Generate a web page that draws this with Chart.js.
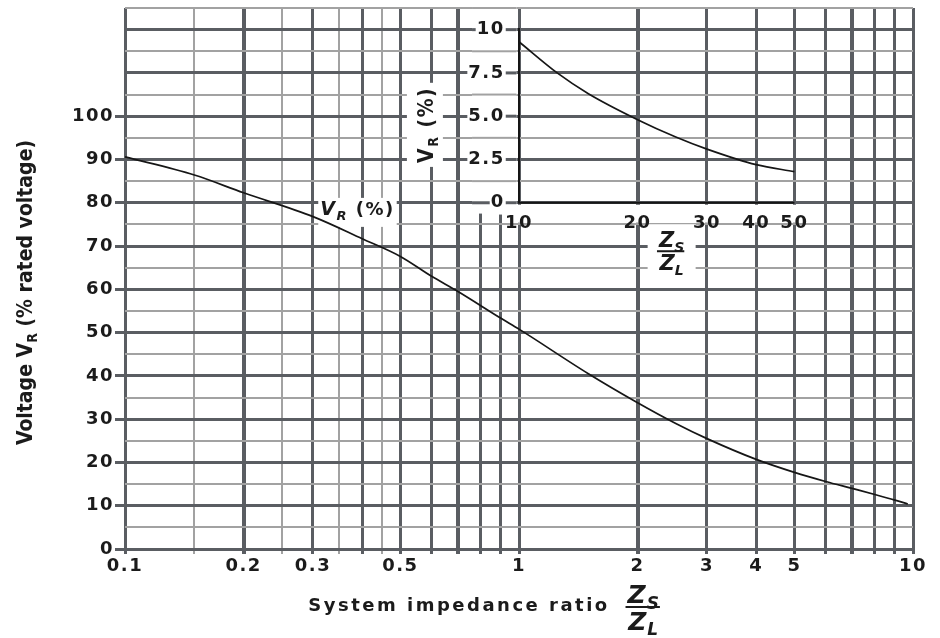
<!DOCTYPE html>
<html>
<head>
<meta charset="utf-8">
<script src="https://cdn.jsdelivr.net/npm/chart.js@4.4.1/dist/chart.umd.min.js"></script>
<style>
  html, body { margin: 0; padding: 0; background: #fff; }
</style>
</head>
<body>
<canvas id="chart" width="940" height="638"></canvas>
<script>
// main curve: residual voltage vs system impedance ratio Zs/Zl
const ratio   = [0.1, 0.15, 0.2, 0.3, 0.4, 0.5, 0.6, 0.7, 0.9, 1, 1.5, 2, 2.5, 3, 4, 5, 6, 7, 8, 9, 9.7];
const voltage = [90.6, 86.4, 82.3, 76.8, 71.7, 67.6, 63.0, 59.5, 53.3, 50.8, 40.5, 33.8, 29.0, 25.5, 20.7, 17.7, 15.6, 14.0, 12.6, 11.3, 10.4];

// inset curve: large ratios
const ratioBig   = [10, 12.5, 15, 20, 25, 30, 40, 50];
const voltageBig = [9.3, 7.5, 6.3, 4.8, 3.8, 3.1, 2.2, 1.8];

// ticks
const xGrid   = [0.1, 0.15, 0.2, 0.25, 0.3, 0.35, 0.4, 0.45, 0.5, 0.6, 0.7, 0.8, 0.9, 1, 2, 3, 4, 5, 6, 7, 8, 9, 10];
const xLabels = [0.1, 0.2, 0.3, 0.5, 1, 2, 3, 4, 5, 10];
const yLabels = [0, 10, 20, 30, 40, 50, 60, 70, 80, 90, 100];
const insetXTicks = [10, 20, 30, 40, 50];
const insetYTicks = [0, 2.5, 5, 7.5, 10];
const insetYLabels = ['0', '2.5', '5.0', '7.5', '10'];

const DARK = '#5a5d62';
const LIGHT = '#a2a2a2';
const INK = '#1b1b1b';
const FONT = '"DejaVu Sans", sans-serif';
const COND = '"DejaVu Sans Condensed", sans-serif';

function mant(v) {
  return +(v / Math.pow(10, Math.floor(Math.log10(v) + 1e-9))).toFixed(2);
}
function vWidth(v) {
  const m = mant(v);
  if ([1.5, 2.5, 3.5, 4.5].includes(m)) return 2;
  if (m === 2 || m === 7) return 4;
  return 3;
}
function vColor(v) {
  return vWidth(v) === 2 ? LIGHT : DARK;
}
function hWidth(v) { return v % 10 === 0 ? 3 : 2; }
function hColor(v) { return v % 10 === 0 ? DARK : LIGHT; }

// draw text pieces side by side (for subscripts)
function runs(ctx, list, x, y) {
  let cx = x;
  for (const [t, font, dy] of list) {
    ctx.font = font;
    ctx.fillText(t, cx, y + (dy || 0));
    cx += ctx.measureText(t).width;
  }
  return cx - x;
}
function runsWidth(ctx, list) {
  let w = 0;
  for (const [t, font] of list) { ctx.font = font; w += ctx.measureText(t).width; }
  return w;
}
function fraction(ctx, cx, cy, size) {
  const big = 'bold italic ' + size + 'px ' + FONT;
  const sub = 'bold italic ' + Math.round(size * 0.68) + 'px ' + FONT;
  const num = [['Z', big], ['S', sub, size * 0.22]];
  const den = [['Z', big], ['L', sub, size * 0.22]];
  const wn = runsWidth(ctx, num), wd = runsWidth(ctx, den);
  const w = Math.max(wn, wd);
  runs(ctx, num, cx - wn / 2, cy - 4);
  ctx.fillRect(cx - w / 2 - 2, cy - 1, w + 2, 2);
  runs(ctx, den, cx - wd / 2, cy + size * 0.9);
  return w;
}

const overlay = {
  id: 'overlay',
  beforeUpdate(chart) { chart.ctx.letterSpacing = '1.5px'; },
  beforeDraw(chart) { chart.ctx.letterSpacing = '1.5px'; },
  beforeDatasetsDraw(chart) {
    const { ctx, chartArea: ca, scales: { x, y, x2, y2 } } = chart;
    ctx.save();
    ctx.fillStyle = '#fff';

    // blank column left of the inset axis, then put the horizontal lines back
    const c0 = x.getPixelForValue(0.76), c1 = x.getPixelForValue(0.985);
    const cTop = ca.top - 3;
    const cBottom = y.getPixelForValue(77.5);
    ctx.fillRect(c0, cTop, c1 - c0, cBottom - cTop);
    y.ticks.forEach(t => {
      const py = y.getPixelForValue(t.value);
      if (py > cBottom) return;
      ctx.fillStyle = hColor(t.value);
      const w = hWidth(t.value);
      ctx.fillRect(c0, py - w / 2, c1 - c0, w);
    });
    ctx.fillStyle = '#fff';

    // band under the inset x labels
    const b0 = x2.getPixelForValue(9.3), b1 = x2.getPixelForValue(57);
    const bt = y.getPixelForValue(80) + 2, bb = y.getPixelForValue(75.4);
    ctx.fillRect(b0, bt, b1 - b0, bb - bt);

    // curve label V_R (%)
    const lab = [['V', 'bold italic 19px ' + FONT], ['R', 'bold italic 13px ' + FONT, 5], [' (%)', 'bold 18px ' + FONT]];
    const lx = x.getPixelForValue(0.313), ly = y.getPixelForValue(77.2);
    const lw = runsWidth(ctx, lab);
    ctx.fillRect(lx - 2, ly - 17, lw + 4, 29);

    // inset y title (rotated)
    const rl = [['V', 'bold 21px ' + COND], ['R', 'bold 14px ' + COND, 5], [' (%)', 'bold 21px ' + COND]];
    const rx = x.getPixelForValue(0.577), ry = y.getPixelForValue(98);
    const rw = runsWidth(ctx, rl);
    ctx.fillRect(rx - 18, ry - rw / 2 - 4, 36, rw + 8);

    // inset fraction box
    const fx = x2.getPixelForValue(24.4), fy = y.getPixelForValue(68.8);
    ctx.fillRect(fx - 24, fy - 27, 48, 56);

    // texts
    ctx.fillStyle = INK;
    ctx.textBaseline = 'alphabetic';
    ctx.textAlign = 'left';
    runs(ctx, lab, lx, ly);

    ctx.save();
    ctx.translate(rx + 8, ry);
    ctx.rotate(-Math.PI / 2);
    runs(ctx, rl, -rw / 2, 0);
    ctx.restore();

    ctx.letterSpacing = '0px';
    fraction(ctx, fx, fy, 21);

    // inset axes
    ctx.strokeStyle = '#151515';
    ctx.lineWidth = 2;
    ctx.beginPath();
    ctx.moveTo(x2.getPixelForValue(10), y2.getPixelForValue(10.1));
    ctx.lineTo(x2.getPixelForValue(10), y2.getPixelForValue(0));
    ctx.lineTo(x2.getPixelForValue(50), y2.getPixelForValue(0));
    ctx.stroke();
    ctx.restore();
  },
  afterDraw(chart) {
    const { ctx, chartArea: ca } = chart;
    ctx.save();
    ctx.fillStyle = INK;
    ctx.textBaseline = 'alphabetic';
    ctx.textAlign = 'left';

    // x title
    ctx.letterSpacing = '2.5px';
    const xt = 'System impedance ratio';
    ctx.font = 'bold 18px ' + FONT;
    const tw = ctx.measureText(xt).width;
    const tx = (ca.left + ca.right) / 2 - 32 - (tw + 56) / 2;
    ctx.fillText(xt, tx, 611);
    ctx.letterSpacing = '1px';
    fraction(ctx, tx + tw + 34, 607, 25);

    // y title
    ctx.letterSpacing = '0px';
    const yt = [['Voltage V', 'bold 21px ' + COND], ['R', 'bold 14px ' + COND, 5], [' (% rated voltage)', 'bold 21px ' + COND]];
    const yw = runsWidth(ctx, yt);
    ctx.translate(32, (ca.top + ca.bottom) / 2 + 14);
    ctx.rotate(-Math.PI / 2);
    runs(ctx, yt, -yw / 2, 0);
    ctx.restore();
  }
};

const tickFont = { family: FONT, size: 18, weight: 'bold' };

new Chart(document.getElementById('chart'), {
  type: 'line',
  data: {
    datasets: [
      {
        label: 'V_R',
        data: ratio.map((r, i) => ({ x: r, y: voltage[i] })),
        xAxisID: 'x', yAxisID: 'y',
        borderColor: '#161616', borderWidth: 1.7,
        pointRadius: 0, fill: false, cubicInterpolationMode: 'monotone'
      },
      {
        label: 'V_R inset',
        data: ratioBig.map((r, i) => ({ x: r, y: voltageBig[i] })),
        xAxisID: 'x2', yAxisID: 'y2',
        borderColor: '#161616', borderWidth: 1.7,
        pointRadius: 0, fill: false, cubicInterpolationMode: 'monotone'
      }
    ]
  },
  options: {
    responsive: false,
    animation: false,
    devicePixelRatio: 1,
    layout: { padding: { top: 8, right: 27, left: 0, bottom: 0 } },
    plugins: { legend: { display: false }, tooltip: { enabled: false } },
    scales: {
      x: {
        type: 'logarithmic', position: 'bottom', min: 0.1, max: 10,
        afterBuildTicks: s => { s.ticks = xGrid.map(v => ({ value: v })); },
        afterFit: s => { s.height = 89; s.paddingLeft = 0; s.paddingRight = 0; },
        grid: {
          lineWidth: c => vWidth(c.tick.value),
          color: c => vColor(c.tick.value),
          tickLength: 5
        },
        border: { display: false },
        ticks: {
          autoSkip: false, maxRotation: 0, padding: 2, color: INK, font: tickFont,
          callback: v => xLabels.includes(v) ? String(v) : ''
        }
      },
      y: {
        min: 0, max: 125,
        afterFit: s => { s.width = 125; s.paddingTop = 0; s.paddingBottom = 0; },
        grid: {
          lineWidth: c => hWidth(c.tick.value),
          color: c => hColor(c.tick.value),
          tickLength: 10,
          tickColor: c => yLabels.includes(c.tick.value) ? DARK : 'rgba(0,0,0,0)'
        },
        border: { display: false },
        ticks: {
          stepSize: 5, autoSkip: false, padding: 1, color: INK, font: tickFont,
          callback: v => yLabels.includes(v) ? String(v) : ''
        }
      },
      x2: {
        type: 'logarithmic', axis: 'x', position: { y: 80 }, min: 1, max: 100,
        afterBuildTicks: s => { s.ticks = insetXTicks.map(v => ({ value: v })); },
        afterFit: s => { s.paddingLeft = 0; s.paddingRight = 0; },
        grid: { display: false },
        border: { display: false },
        ticks: {
          z: 1, autoSkip: false, maxRotation: 0, padding: 2, color: INK, font: tickFont,
          callback: v => String(v)
        }
      },
      y2: {
        type: 'linear', axis: 'y', position: { x: 0.92 }, min: -20, max: 11.25,
        afterBuildTicks: s => { s.ticks = insetYTicks.map(v => ({ value: v })); },
        afterFit: s => { s.paddingTop = 0; s.paddingBottom = 0; },
        grid: { display: false },
        border: { display: false },
        ticks: {
          z: 1, autoSkip: false, color: INK, font: tickFont,
          showLabelBackdrop: true, backdropColor: '#fff', backdropPadding: 1,
          callback: (v, i) => insetYLabels[i]
        }
      }
    }
  },
  plugins: [overlay]
});
</script>
</body>
</html>
